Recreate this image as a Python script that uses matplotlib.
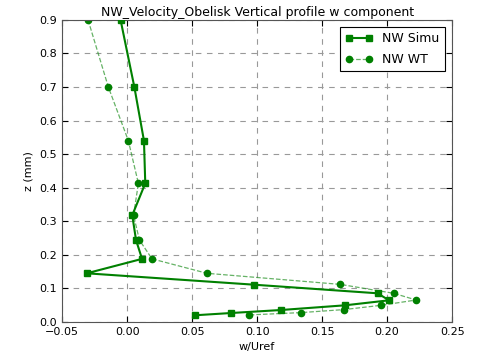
import matplotlib
matplotlib.use("Agg")
import matplotlib.pyplot as plt

simu_w = [-0.005, 0.0056, 0.013, 0.014, 0.004, 0.0069, 0.0115, -0.031, 0.098, 0.1926, 0.2015, 0.1677, 0.1185, 0.0803, 0.0523]
simu_z = [0.90, 0.70, 0.54, 0.413, 0.318, 0.244, 0.188, 0.145, 0.111, 0.0855, 0.0646, 0.0497, 0.0357, 0.0268, 0.020]

wt_w = [-0.030, -0.0144, 0.001, 0.0087, 0.005, 0.0095, 0.0192, 0.0615, 0.164, 0.205, 0.2223, 0.1954, 0.167, 0.134, 0.094]
wt_z = [0.90, 0.70, 0.54, 0.413, 0.318, 0.244, 0.188, 0.145, 0.112, 0.0855, 0.0655, 0.0497, 0.037, 0.028, 0.021]

xticks = [-0.05, 0.0, 0.05, 0.10, 0.15, 0.20, 0.25]
yticks = [0.0, 0.1, 0.2, 0.3, 0.4, 0.5, 0.6, 0.7, 0.8, 0.9]

plt.rcParams['font.family'] = ['DejaVu Sans']
fig = plt.figure(figsize=(4.81, 3.55), dpi=100)
ax = fig.add_axes([0.129, 0.093, 0.811, 0.851])

ax.plot(simu_w, simu_z, '-s', color='green', lw=1.5, ms=4.5, mec='green', label='NW Simu', zorder=3)
ax.plot(wt_w, wt_z, '--o', color=(0.2, 0.6, 0.2, 0.75), lw=0.9, ms=4.5, mfc='green', mec='green',
        label='NW WT', zorder=2)

ax.set_xlim(-0.05, 0.25)
ax.set_ylim(0.0, 0.9)
ax.set_xticks(xticks)
ax.set_yticks(yticks)
ax.set_xticklabels([f"{t:.2f}" if t != -0.05 else "\u22120.05" for t in xticks], fontsize=8)
ax.set_yticklabels([f"{t:.1f}" for t in yticks], fontsize=8)
ax.tick_params(direction='in', length=4, color='black', top=True, right=True)
ax.grid(True, linestyle=(0, (5, 5)), color='#999999', lw=0.8)
ax.set_xlabel('w/Uref', fontsize=8)
ax.set_ylabel('z (mm)', fontsize=8)
ax.set_title('NW_Velocity_Obelisk Vertical profile w component', fontsize=9, pad=3)
for s in ax.spines.values():
    s.set_color('#555555')

leg = ax.legend(loc='upper right', numpoints=2, fontsize=9, fancybox=False, framealpha=1,
                edgecolor='black', borderaxespad=0.6, handlelength=2.2, labelspacing=0.6)
leg.get_frame().set_linewidth(0.8)

fig.savefig('out.png', dpi=100)
